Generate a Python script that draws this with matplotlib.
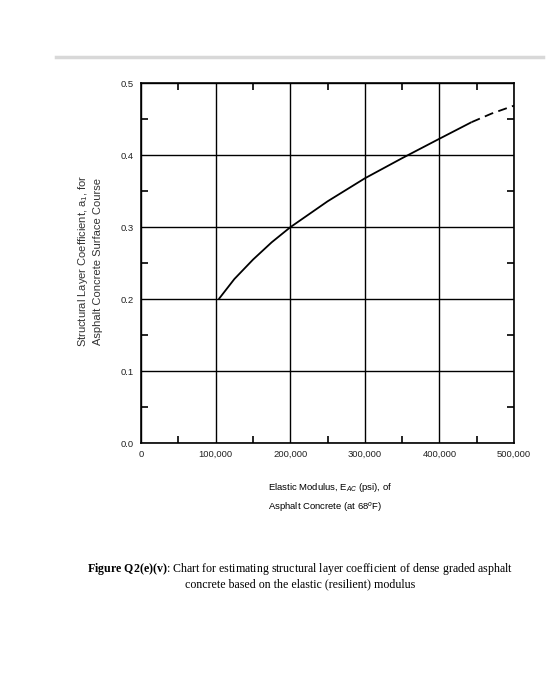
import numpy as np
import matplotlib
matplotlib.use("Agg")
import matplotlib.pyplot as plt
from matplotlib.ticker import MultipleLocator

# curve: solid part and dashed extrapolation
modulus_solid = [104000, 125000, 150000, 175000, 200000, 250000, 300000, 350000, 400000, 443000]
coef_solid = [0.200, 0.228, 0.255, 0.279, 0.300, 0.336, 0.368, 0.396, 0.423, 0.446]
modulus_dash = [443000, 470000, 500000]
coef_dash = [0.446, 0.458, 0.469]

x_ticks = [0, 100000, 200000, 300000, 400000, 500000]
x_labels = ["0", "100,000", "200,000", "300,000", "400,000", "500,000"]
y_ticks = [0.0, 0.1, 0.2, 0.3, 0.4, 0.5]
y_labels = ["0.0", "0.1", "0.2", "0.3", "0.4", "0.5"]

plt.rcParams['font.family'] = ['Liberation Sans', 'DejaVu Sans']
plt.rcParams['mathtext.fontset'] = 'custom'
plt.rcParams['mathtext.rm'] = 'Liberation Sans'
plt.rcParams['mathtext.it'] = 'Liberation Sans:italic'
plt.rcParams['mathtext.bf'] = 'Liberation Serif:bold'

fig = plt.figure(figsize=(5.6, 7), dpi=100)
fig.patch.set_facecolor("white")

# faint scan edge at the top of the page
fig.add_artist(plt.Line2D([0.1, 0.97], [0.918, 0.918], color="#d8d8d8", lw=2.5))

ax = fig.add_axes([0.252, 0.367, 0.666, 0.514])
ax.set_xlim(0, 500000)
ax.set_ylim(0, 0.5)

ax.plot(modulus_solid, coef_solid, color="black", lw=1.3, solid_capstyle="butt")
ax.plot(modulus_dash, coef_dash, color="black", lw=1.3, dashes=(5, 3))

ax.set_xticks(x_ticks)
ax.set_xticklabels(x_labels, fontsize=6.8, color="#222222")
ax.set_yticks(y_ticks)
ax.set_yticklabels(y_labels, fontsize=6.8, color="#222222")
ax.xaxis.set_minor_locator(MultipleLocator(50000))
ax.yaxis.set_minor_locator(MultipleLocator(0.05))
ax.tick_params(which="major", length=0, pad=5)
ax.tick_params(which="minor", direction="in", length=5, width=1.2,
               top=True, right=True, color="black")
ax.grid(True, which="major", color="black", lw=1.0)
for s in ax.spines.values():
    s.set_linewidth(1.2)

fig.text(0.148, 0.627, r"Structural Layer Coefficient, $\mathrm{a}_1$, for",
         rotation=90, ha="center", va="center", fontsize=8, color="#333333")
fig.text(0.175, 0.627, "Asphalt Concrete Surface Course",
         rotation=90, ha="center", va="center", fontsize=8, color="#333333")

fig.text(0.478, 0.303, r"Elastic Modulus, E$_{AC}$ (psi), of",
         ha="left", va="center", fontsize=6.8)
fig.text(0.478, 0.276, r"Asphalt Concrete (at 68$^{o}$F)",
         ha="left", va="center", fontsize=6.8)

fig.text(0.536, 0.187,
         r"$\mathbf{Figure\ Q2(e)(v)}$: Chart for estimating structural layer coefficient of dense graded asphalt",
         ha="center", va="center", fontsize=8.6, family="Liberation Serif")
fig.text(0.536, 0.166, "concrete based on the elastic (resilient) modulus",
         ha="center", va="center", fontsize=8.6, family="Liberation Serif")

fig.savefig("out.png", dpi=100)
